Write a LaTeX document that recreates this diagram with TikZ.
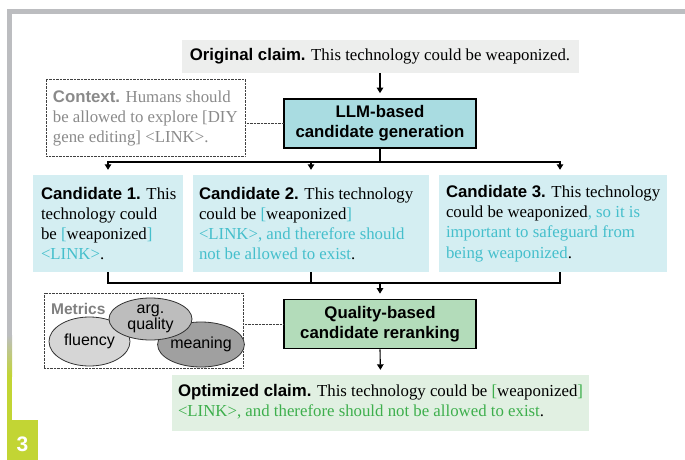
\documentclass[tikz,border=0pt]{standalone}
\usepackage{fontspec}
\setmainfont{Liberation Serif}
\setsansfont{Liberation Sans}
\usetikzlibrary{arrows.meta,shapes.geometric}

\definecolor{framegray}{HTML}{BCBDC0}
\definecolor{framegreen}{HTML}{C2D534}
\definecolor{origfill}{HTML}{EDEEED}
\definecolor{llmfill}{HTML}{A9DCE1}
\definecolor{candfill}{HTML}{D4EEF2}
\definecolor{qualfill}{HTML}{B3DCBA}
\definecolor{optfill}{HTML}{E1F0E2}
\definecolor{tealtxt}{HTML}{45BFCC}
\definecolor{greentxt}{HTML}{3DAF4C}
\definecolor{ctxgray}{HTML}{8A8A8A}
\definecolor{ellA}{HTML}{D6D6D6}
\definecolor{ellB}{HTML}{BDBDBD}
\definecolor{ellC}{HTML}{A0A0A0}

\newcommand\bodysize{\fontsize{16.8}{20.3}\selectfont}
\newcommand\hd[1]{{\sffamily\bfseries #1}}
\newcommand\tl[1]{\textcolor{tealtxt}{#1}}
\newcommand\gr[1]{\textcolor{greentxt}{#1}}

\tikzset{
  panel/.style={rectangle, inner sep=0pt, fill=#1},
  stagebox/.style={rectangle, draw=black, line width=1.7pt, inner sep=0pt,
    minimum width=192pt, minimum height=49pt, align=center,
    font=\fontsize{16.8}{20}\selectfont\sffamily\bfseries},
  boxtext/.style={anchor=west, align=left, inner sep=0pt, font=\bodysize},
  joint/.style={line width=1.1pt},
  flowarrow/.style={line width=1.1pt, -{Triangle[width=6.5pt,length=5.5pt]}, shorten >=5pt},
  dotbox/.style={draw=black!75, line width=0.6pt, dash pattern=on 0.7pt off 0.7pt},
  metric/.style={ellipse, draw=black!80, line width=0.8pt, inner sep=0pt,
    align=center, font=\sffamily\fontsize{16}{16}\selectfont}
}

\begin{document}
\begin{tikzpicture}[x=1pt,y=-1pt]
\useasboundingbox (0,0) rectangle (685,460);

% page frame
\fill[framegray] (7,9) rectangle (685,14);
\fill[framegray] (7,9) rectangle (12,336);
\shade[top color=framegray, bottom color=framegreen] (7,335) rectangle (12,376);
\fill[framegreen] (7,375) rectangle (12,421);
\node[panel=framegreen, minimum width=31pt, minimum height=40pt] (stepbox) at (22.5,440) {};
\node[inner sep=0pt, text=white, font=\sffamily\bfseries\fontsize{21}{21}\selectfont] (steplabel) at (22.5,444.5) {3};

% input claim
\node[panel=origfill, minimum width=397pt, minimum height=33pt, font=\bodysize] (orig) at (380,56.5)
  {\hd{Original claim.} This technology could be weaponized.};

% generation stage
\node[stagebox, fill=llmfill] (llm) at (380,123.5) {LLM-based\\candidate generation};

\node[rectangle, dotbox, inner sep=0pt, minimum width=199pt, minimum height=77pt] (ctx) at (145.5,117.5) {};
\node[boxtext, text=ctxgray] (ctxt) at ([xshift=7pt,yshift=-1pt]ctx.west)
  {\hd{Context.} Humans should\\be allowed to explore [DIY\\gene editing] <LINK>.};

% candidates
\node[panel=candfill, minimum width=150pt, minimum height=97pt] (c1) at (108,223.5) {};
\node[panel=candfill, minimum width=236pt, minimum height=97pt] (c2) at (311,223.5) {};
\node[panel=candfill, minimum width=228pt, minimum height=97pt] (c3) at (553,223.5) {};

\node[boxtext] (c1t) at ([xshift=8pt]c1.west)
  {\hd{Candidate 1.} This\\technology could\\be \tl{[}weaponized\tl{]}\\\tl{<LINK>}.};
\node[boxtext] (c2t) at ([xshift=6pt]c2.west)
  {\hd{Candidate 2.} This technology\\could be \tl{[}weaponized\tl{]}\\\tl{<LINK>, and therefore should}\\\tl{not be allowed to exist}.};
\node[boxtext] (c3t) at ([xshift=7pt]c3.west)
  {\hd{Candidate 3.} This technology\\could be weaponized\tl{, so it is}\\\tl{important to safeguard from}\\\tl{being weaponized}.};

% reranking stage
\node[stagebox, fill=qualfill] (qual) at (380,324) {Quality-based\\candidate reranking};

\node[rectangle, dotbox, inner sep=0pt, minimum width=199pt, minimum height=75pt] (met) at (143.5,330.5) {};
\node[anchor=west, inner sep=0pt, text=black!50, font=\sffamily\bfseries\fontsize{15.5}{16}\selectfont] (mett) at (51,309) {Metrics};
\node[metric, fill=ellA, minimum width=81pt, minimum height=49pt] (fluency) at (89.5,341.5) {fluency};
\node[metric, fill=ellC, minimum width=80pt, minimum height=45pt] (meaning) at (201,344.5) {meaning};
\node[metric, fill=ellB, minimum width=83pt, minimum height=42pt] (argq) at (150.5,319) {arg.\\quality};

% output claim
\node[panel=optfill, minimum width=417pt, minimum height=56pt] (opt) at (380.5,403) {};
\node[boxtext] (optt) at ([xshift=6pt,yshift=1pt]opt.west)
  {\hd{Optimized claim.} This technology could be \gr{[}weaponized\gr{]}\\\gr{<LINK>, and therefore should not be allowed to exist}.};

% connectors
\draw[flowarrow] (orig.south) -- (llm.north);
\draw[dotbox] (ctx.east |- llm.west) -- (llm.west);
\draw[dotbox] (met.east |- qual.west) -- (qual.west);

\coordinate (split) at (llm.south |- 0,162);
\draw[joint] (llm.south) -- (split);
\draw[flowarrow] (split) -| (c1.north);
\draw[flowarrow] (split) -| (c2.north);
\draw[flowarrow] (split) -| ([xshift=7pt]c3.north);

\coordinate (merge) at (llm.south |- 0,283);
\draw[joint] (c1.south) |- (merge);
\draw[joint] (c2.south) |- (merge);
\draw[joint] ([xshift=7pt]c3.south) |- (merge);
\draw[flowarrow] (merge) -- (qual.north);
\draw[flowarrow] (qual.south) -- (opt.north);
\end{tikzpicture}
\end{document}
